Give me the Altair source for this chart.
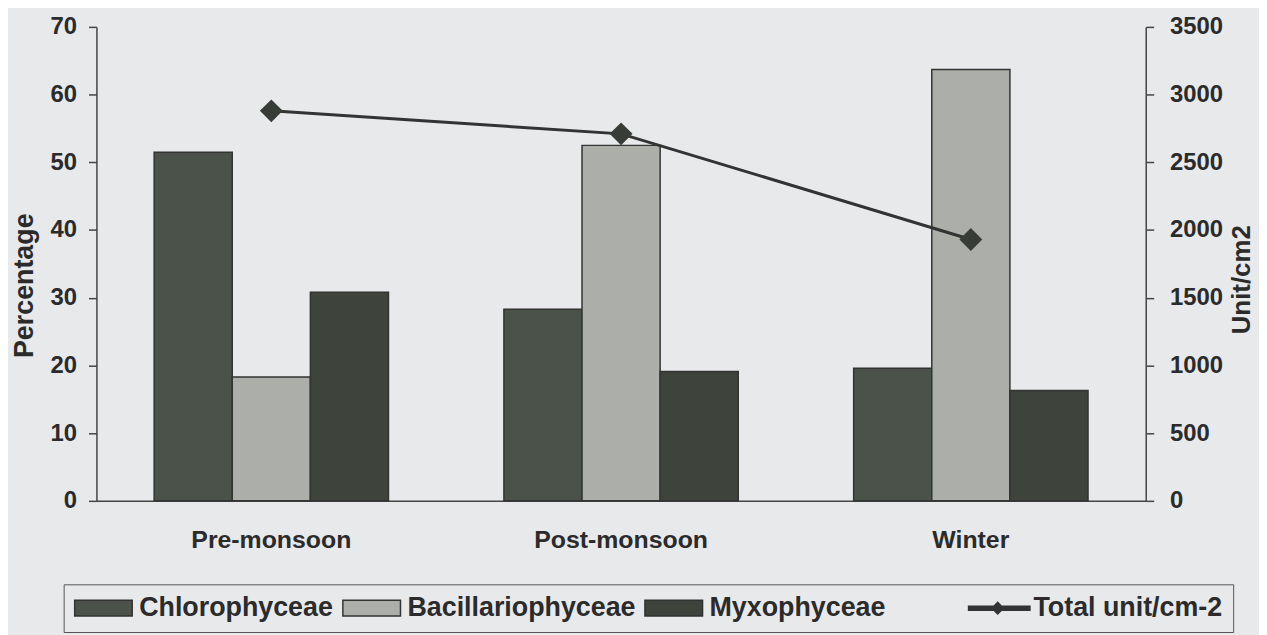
import altair as alt
import pandas as pd

# ---- data ----
seasons = ["Pre-monsoon", "Post-monsoon", "Winter"]
groups = ["Chlorophyceae", "Bacillariophyceae", "Myxophyceae"]
chlorophyceae = [51.5, 28.3, 19.6]
bacillariophyceae = [18.3, 52.5, 63.7]
myxophyceae = [30.8, 19.1, 16.3]
total_units = [2880, 2710, 1930]
total_label = "Total unit/cm-2"
spacer_label = " "
pct_ticks = [0, 10, 20, 30, 40, 50, 60, 70]
unit_ticks = [0, 500, 1000, 1500, 2000, 2500, 3000, 3500]

rows = []
for i, s in enumerate(seasons):
    for g, vals in zip(groups, [chlorophyceae, bacillariophyceae, myxophyceae]):
        rows.append({"season": s, "group": g, "pct": vals[i]})
bars_df = pd.DataFrame(rows)
line_df = pd.DataFrame({"season": seasons, "total": total_units})

FONT = "Liberation Sans"
INK = "#2b2b2b"
legend_domain = groups + [spacer_label, total_label]
fill_range = ["#4b5249", "#abaea9", "#3e433c", "transparent", "#333333"]
rect_path = "M-1,-0.276H1V0.276H-1Z"
empty_path = "M0,0"
line_path = "M-1.12,-0.07H1.12V0.07H-1.12Z M-0.2,0L0,-0.2L0.2,0L0,0.2Z"
shape_range = [rect_path, rect_path, rect_path, empty_path, line_path]

legend = alt.Legend(
    title=None, orient="none", legendX=-33, legendY=561, direction="horizontal",
    labelFont=FONT, labelFontSize=27, labelFontWeight="bold", labelColor=INK,
    labelLimit=600, labelOffset=6, columnPadding=8, padding=10, clipHeight=28,
    symbolSize=3364, symbolStrokeColor="#333333", symbolStrokeWidth=1.5,
    strokeColor="#555555",
)
fill_scale = alt.Scale(domain=legend_domain, range=fill_range)

x_enc = alt.X(
    "season:N", sort=seasons,
    scale=alt.Scale(paddingInner=0.33, paddingOuter=0.165),
    axis=alt.Axis(title=None, labelAngle=0, ticks=False, tickSize=0, labelPadding=27,
                  labelFont=FONT, labelFontSize=25, labelFontWeight="bold", labelColor=INK,
                  domainColor="#444444", domainWidth=1.5),
)

bars = alt.Chart(bars_df).mark_bar(stroke="#333333", strokeWidth=1.5).encode(
    x=x_enc,
    xOffset=alt.XOffset("group:N", sort=groups, scale=alt.Scale(paddingInner=0, paddingOuter=0)),
    y=alt.Y("pct:Q", scale=alt.Scale(domain=[0, 70]),
            axis=alt.Axis(title="Percentage", values=pct_ticks, grid=False, format="d",
                          labelFont=FONT, labelFontSize=24, labelFontWeight="bold", labelColor=INK,
                          labelPadding=12, tickSize=8, tickWidth=1.5, tickColor="#444444",
                          domainColor="#444444", domainWidth=1.5,
                          titleFont=FONT, titleFontSize=27, titleFontWeight="bold", titleColor=INK,
                          titleAngle=270, titleX=-72, titleY=260, titleAlign="center",
                          titleBaseline="middle")),
    fill=alt.Fill("group:N", scale=fill_scale, legend=legend),
)

line = alt.Chart(line_df).mark_line(color="#333333", strokeWidth=3).encode(
    x=alt.X("season:N", sort=seasons),
    y=alt.Y("total:Q", scale=alt.Scale(domain=[0, 3500]),
            axis=alt.Axis(orient="right", title="Unit/cm2", values=unit_ticks, grid=False, format="d",
                          labelFont=FONT, labelFontSize=24, labelFontWeight="bold", labelColor=INK,
                          labelPadding=16, tickSize=8, tickWidth=1.5, tickColor="#444444",
                          domainColor="#444444", domainWidth=1.5,
                          titleFont=FONT, titleFontSize=26, titleFontWeight="bold", titleColor=INK,
                          titleAngle=270, titleX=96, titleY=254, titleAlign="center",
                          titleBaseline="middle")),
)

points = alt.Chart(line_df).mark_point(shape="diamond", filled=True, size=529, opacity=1,
                                       color="#373c36").encode(
    x=alt.X("season:N", sort=seasons),
    y=alt.Y("total:Q"),
)

legend_layer = alt.Chart(bars_df).transform_filter("false").mark_point(filled=True, opacity=1).encode(
    fill=alt.Fill("group:N", scale=fill_scale, legend=legend),
    shape=alt.Shape("group:N", scale=alt.Scale(domain=legend_domain, range=shape_range), legend=legend),
)

chart = alt.layer(bars, alt.layer(line, points, legend_layer)).resolve_scale(
    y="independent"
).properties(
    width=1056, height=477,
    autosize=alt.AutoSizeParams(type="none"),
    padding={"left": 89, "top": 17, "right": 114, "bottom": 133},
    background="#e8e9eb",
).configure_view(stroke=None)

chart.save("out.html", embed_options={"renderer": "svg", "actions": False})
